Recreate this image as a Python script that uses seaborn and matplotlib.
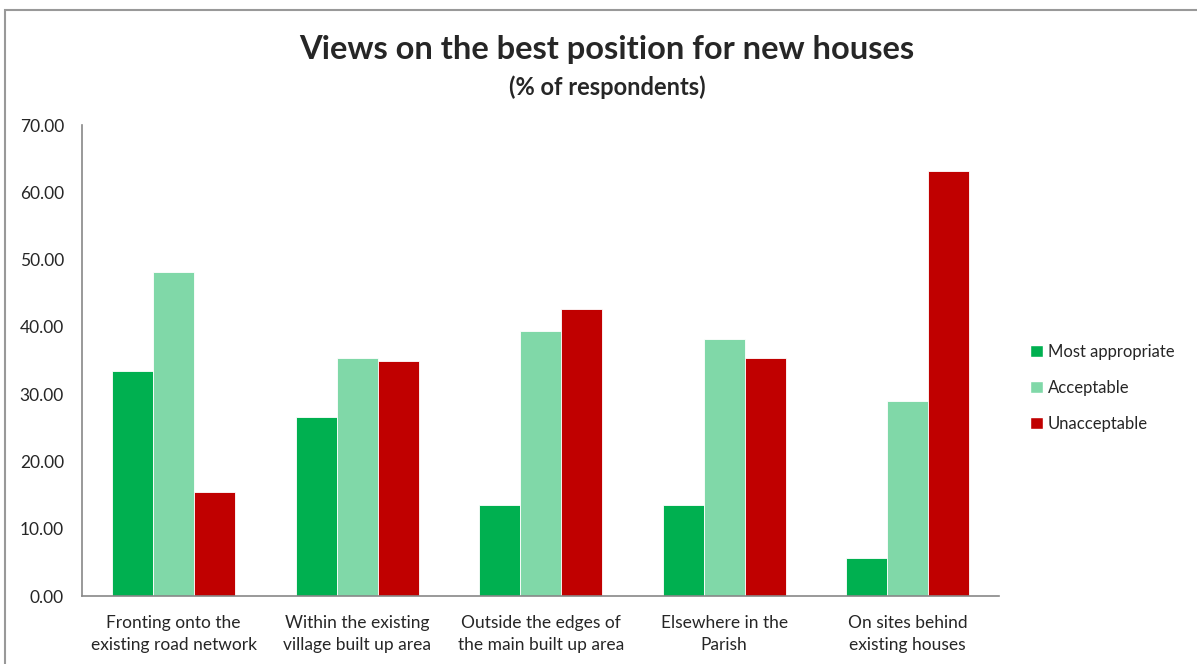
import pandas as pd
import matplotlib.pyplot as plt
import matplotlib.patches as mpatches
import seaborn as sns

# values
positions = ["Fronting onto the\nexisting road network",
             "Within the existing\nvillage built up area",
             "Outside the edges of\nthe main built up area",
             "Elsewhere in the\nParish",
             "On sites behind\nexisting houses"]
most_appropriate = [33.5, 26.6, 13.5, 13.5, 5.7]
acceptable = [48.1, 35.4, 39.4, 38.2, 29.0]
unacceptable = [15.5, 35.0, 42.6, 35.4, 63.1]

series = ["Most appropriate", "Acceptable", "Unacceptable"]
colours = ["#00B050", "#80D8A8", "#C00000"]

df = pd.DataFrame({
    "position": positions * 3,
    "view": [s for s in series for _ in positions],
    "pct": most_appropriate + acceptable + unacceptable,
})

sns.set_style("white")
plt.rcParams['font.family'] = ['Lato', 'DejaVu Sans']

fig = plt.figure(figsize=(11.97, 6.64), dpi=100)
ax = fig.add_axes([0.0685, 0.1024, 0.7665, 0.7093])

sns.barplot(data=df, x="position", y="pct", hue="view", hue_order=series,
            palette=colours, saturation=1, width=0.67, edgecolor="white",
            linewidth=0.6, ax=ax, legend=False)

ax.set_ylim(0, 70)
ax.set_xlim(-0.5, len(positions) - 0.5)
ax.set_yticks(range(0, 71, 10))
ax.set_yticklabels([f"{v:.2f}" for v in range(0, 71, 10)], fontsize=12.5)
ax.set_xlabel("")
ax.set_ylabel("")

# Excel style: category ticks sit between groups
ax.set_xticks([i - 0.5 for i in range(len(positions) + 1)], minor=False)
ax.set_xticklabels([])
ax.set_xticks(range(len(positions)), minor=True)
ax.set_xticklabels(positions, minor=True, fontsize=12.5, linespacing=1.45)
ax.tick_params(axis="x", which="minor", length=0, pad=14)
ax.tick_params(axis="x", which="major", length=5, color="#888888", direction="out")
ax.tick_params(axis="y", length=5, color="#888888", direction="out", pad=8)

for side in ["top", "right"]:
    ax.spines[side].set_visible(False)
for side in ["left", "bottom"]:
    ax.spines[side].set_color("#888888")
    ax.spines[side].set_linewidth(1.2)

fig.text(0.507, 0.926, "Views on the best position for new houses",
         ha="center", va="center", fontsize=23.5, fontweight="bold")
fig.text(0.507, 0.868, "(% of respondents)",
         ha="center", va="center", fontsize=17, fontweight="bold")

handles = [mpatches.Patch(facecolor=c, label=s) for c, s in zip(colours, series)]
fig.legend(handles=handles, loc="center left", bbox_to_anchor=(0.848, 0.416),
           frameon=False, fontsize=12, handlelength=0.75, handleheight=0.75,
           handletextpad=0.3, labelspacing=1.2)

# outer chart frame
fig.patches.append(mpatches.Rectangle((5 / 1197, -0.1), 1.2, 0.1 + (664 - 10) / 664,
                                      transform=fig.transFigure, fill=False,
                                      edgecolor="#999999", linewidth=1.5))

fig.savefig("out.png", dpi=100)
